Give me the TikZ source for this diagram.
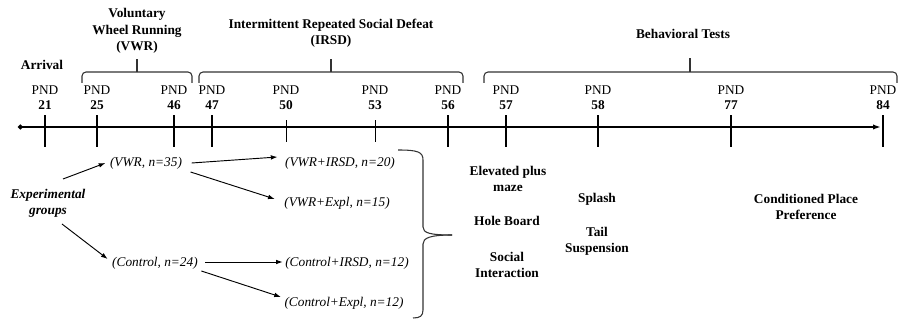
\documentclass[tikz,border=0pt]{standalone}
\usepackage{fontspec}
\setmainfont{Liberation Serif}
\usepackage{tikz}
\usetikzlibrary{arrows.meta,positioning,calc}
\tikzset{
  title/.style={font=\fontsize{10}{12.4}\selectfont\bfseries, align=center, inner sep=0pt},
  pnd/.style={font=\fontsize{10}{11.25}\selectfont, align=center, inner sep=0pt},
  major/.style={rectangle, fill=black, inner sep=0pt, minimum width=1.6pt, minimum height=24pt},
  minor/.style={rectangle, fill=black, inner sep=0pt, minimum width=0.7pt, minimum height=16.5pt},
  group/.style={font=\fontsize{10}{12}\selectfont\itshape, inner sep=1pt},
  test/.style={font=\fontsize{10}{12}\selectfont\bfseries, align=center, inner sep=0pt},
  brk/.style={line width=0.8pt, draw=black!80, rounded corners=3pt},
  arrow/.style={-{Latex[length=5pt,width=3.5pt]}, line width=0.7pt},
  timeline/.style={{Circle[length=3.5pt]}-{Latex[length=6pt,width=4pt]}, line width=1.4pt}
}

\begin{document}
\begin{tikzpicture}[x=0.75pt, y=-0.75pt]
    \useasboundingbox (0,0) rectangle (910,320);

    % time axis
    \coordinate (tstart) at (18,127);
    \coordinate (tend) at (881,127);
    \draw[timeline] (tstart) -- (tend);

    \node[major] (t21) at (45,131) {};
    \node[major] (t25) at (97,131) {};
    \node[major] (t46) at (174,131) {};
    \node[major] (t47) at (212,131) {};
    \node[minor] (t50) at (286,131) {};
    \node[minor] (t53) at (375,131) {};
    \node[major] (t56) at (448,131) {};
    \node[major] (t57) at (506,131) {};
    \node[major] (t58) at (598,131) {};
    \node[major] (t77) at (731,131) {};
    \node[major] (t84) at (883,131) {};

    \node[pnd, above=3.75pt of t21] (l21) {PND\\\textbf{21}};
    \node[pnd, above=3.75pt of t25] (l25) {PND\\\textbf{25}};
    \node[pnd, above=3.75pt of t46] (l46) {PND\\\textbf{46}};
    \node[pnd, above=3.75pt of t47] (l47) {PND\\\textbf{47}};
    \node[pnd, above=7.5pt of t50] (l50) {PND\\\textbf{50}};
    \node[pnd, above=7.5pt of t53] (l53) {PND\\\textbf{53}};
    \node[pnd, above=3.75pt of t56] (l56) {PND\\\textbf{56}};
    \node[pnd, above=3.75pt of t57] (l57) {PND\\\textbf{57}};
    \node[pnd, above=3.75pt of t58] (l58) {PND\\\textbf{58}};
    \node[pnd, above=3.75pt of t77] (l77) {PND\\\textbf{77}};
    \node[pnd, above=3.75pt of t84] (l84) {PND\\\textbf{84}};

    % phases
    \node[title] (arrival) at (42,65) {Arrival};
    \draw[brk] (82,83) |- (192,72) -- (192,83);
    \draw[brk] (137,72) -- (137,59);
    \node[title] (vwrt) at (137,31) {Voluntary\\Wheel Running\\(VWR)};
    \draw[brk] (199,83) |- (463,72) -- (463,83);
    \draw[brk] (331,72) -- (331,59);
    \node[title] (irsdt) at (331,33) {Intermittent Repeated Social Defeat\\(IRSD)};
    \draw[brk] (484,83) |- (897,72) -- (897,83);
    \draw[brk] (690,72) -- (690,58);
    \node[title] (behavt) at (683,34) {Behavioral Tests};

    % groups
    \node[title, font=\fontsize{10}{12}\selectfont\bfseries\itshape] (exp) at (48,203) {Experimental\\groups};
    \node[group] (vwr) at (146,163) {(VWR, n=35)};
    \node[group] (ctrl) at (155,263) {(Control, n=24)};
    \node[group] (vwrirsd) at (340,163) {(VWR+IRSD, n=20)};
    \node[group] (vwrexpl) at (337,203) {(VWR+Expl, n=15)};
    \node[group] (ctrlirsd) at (347,263) {(Control+IRSD, n=12)};
    \node[group] (ctrlexpl) at (344,303) {(Control+Expl, n=12)};

    \draw[arrow] ($(exp)+(15,-24)$) -- ($(vwr.west)+(-3,0)$);
    \draw[arrow] ($(exp)+(14,21)$) -- ($(ctrl.west)+(-3,-4)$);
    \draw[arrow] ($(vwr.east)+(8,0)$) -- ($(vwrirsd.west)+(-6,-6)$);
    \draw[arrow] ($(vwr.east)+(7,9)$) -- ($(vwrexpl.west)+(-8,-4)$);
    \draw[arrow] ($(ctrl.east)+(6,-1)$) -- ($(ctrlirsd.west)+(-1,-1)$);
    \draw[arrow] ($(ctrl.east)+(2,8)$) -- ($(ctrlexpl.west)+(-2,-6)$);

    % all groups go to testing
    \draw[line width=0.8pt, draw=black!80] (398,150) .. controls (418,150) and (423,152) .. (423,160) -- (423,227) .. controls (423,233) and (430,235) .. (452,235);
    \draw[line width=0.8pt, draw=black!80] (452,235) .. controls (430,235) and (423,238) .. (423,244) -- (423,310) .. controls (423,316) and (420,318) .. (413,318);

    % tests
    \node[test] (epm) at (508,179) {Elevated plus\\maze};
    \node[test] (hole) at (507,221) {Hole Board};
    \node[test] (social) at (507,265) {Social\\Interaction};
    \node[test] (splash) at (597,199) {Splash};
    \node[test] (tail) at (597,241) {Tail\\Suspension};
    \node[test] (cpp) at (806,207) {Conditioned Place\\Preference};
\end{tikzpicture}
\end{document}
